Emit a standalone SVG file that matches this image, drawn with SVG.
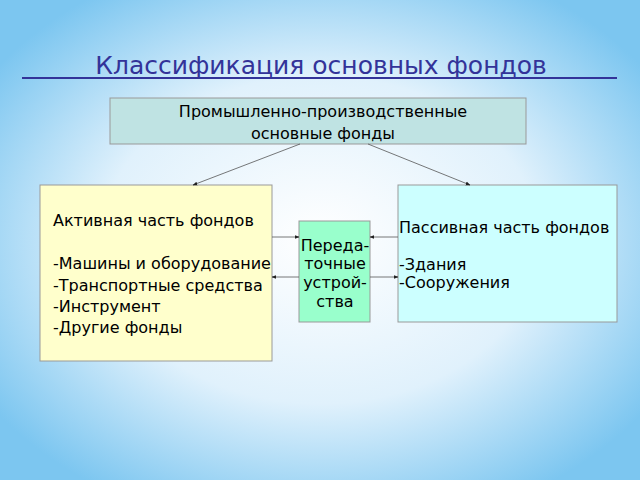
<svg xmlns="http://www.w3.org/2000/svg" width="640" height="480" viewBox="0 0 640 480">
<defs>
<radialGradient id="bg" cx="50%" cy="50%" r="62%">
<stop offset="0" stop-color="#ffffff"/>
<stop offset="0.55" stop-color="#e0f1fc"/>
<stop offset="1" stop-color="#7cc6f0"/>
</radialGradient>
<marker id="ah" viewBox="0 0 10 10" refX="9" refY="5" markerWidth="6" markerHeight="6" orient="auto"><path d="M0,1 L10,5 L0,9 z" fill="#222"/></marker>
</defs>
<style>
text{font-family:"DejaVu Sans",sans-serif;fill:#000;font-size:16px}
.b{stroke:#999;stroke-width:1}
.c{stroke:#555;stroke-width:0.8;fill:none;marker-end:url(#ah)}
</style>
<rect width="640" height="480" fill="url(#bg)"/>
<text x="321" y="74" text-anchor="middle" style="font-size:25px;fill:#333399">Классификация основных фондов</text>
<line x1="22" y1="78" x2="617" y2="78" stroke="#333399" stroke-width="2"/>
<g id="top"><rect class="b" x="110" y="98" width="416" height="46" fill="#bfe3e3"/>
<text x="323" y="117" text-anchor="middle">Промышленно-производственные</text>
<text x="323" y="139" text-anchor="middle">основные фонды</text></g>
<g id="active"><rect class="b" x="40" y="185" width="232" height="176" fill="#ffffcc"/>
<text x="53" y="226">Активная часть фондов</text>
<text x="53" y="269">-Машины и оборудование</text>
<text x="53" y="291">-Транспортные средства</text>
<text x="53" y="312">-Инструмент</text>
<text x="53" y="333">-Другие фонды</text></g>
<g id="passive"><rect class="b" x="398" y="185" width="219" height="137" fill="#ccffff"/>
<text x="399" y="233">Пассивная часть фондов</text>
<text x="399" y="270">-Здания</text>
<text x="399" y="288">-Сооружения</text></g>
<g id="mid"><rect class="b" x="299" y="221" width="71" height="101" fill="#99ffcc"/>
<text x="335" y="251" text-anchor="middle">Переда-</text>
<text x="335" y="269" text-anchor="middle">точные</text>
<text x="335" y="288" text-anchor="middle">устрой-</text>
<text x="335" y="307" text-anchor="middle">ства</text></g>
<g id="connectors">
<line class="c" x1="300" y1="144" x2="193" y2="185"/>
<line class="c" x1="368" y1="144" x2="470" y2="185"/>
<line class="c" x1="272" y1="237" x2="299" y2="237"/>
<line class="c" x1="398" y1="237" x2="370" y2="237"/>
<line class="c" x1="299" y1="277" x2="272" y2="277"/>
<line class="c" x1="370" y1="277" x2="398" y2="277"/>
</g>
</svg>
